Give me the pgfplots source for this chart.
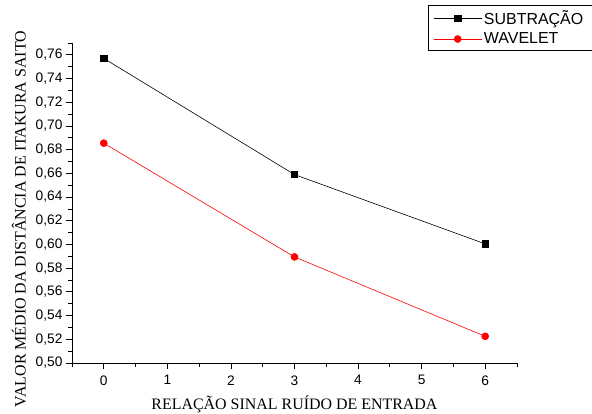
\documentclass[border=0pt]{standalone}
\usepackage{fontspec}
\setmainfont{Liberation Serif}
\newfontfamily\arial{Liberation Sans}
\usepackage{pgfplots}
\pgfplotsset{compat=1.18}
\begin{document}
\begin{tikzpicture}
\begin{axis}[
  at={(0,0)}, anchor=south west,
  width=445bp, height=320bp, scale only axis,
  xmin=-0.5, xmax=6.5, ymin=0.5, ymax=0.77,
  axis x line*=bottom, axis y line*=left,
  axis line style={line width=0.8pt, -},
  xtick={0,1,2,3,4,5,6},
  minor xtick={-0.5,0.5,1.5,2.5,3.5,4.5,5.5,6.5},
  ytick={0.50,0.52,...,0.77},
  minor ytick={0.51,0.53,...,0.771},
  tick align=outside,
  major tick length=6bp, minor tick length=3.5bp,
  tick style={line width=0.8pt, black},
  ticklabel style={font=\arial\fontsize{13.8}{14}\selectfont},
  xticklabel style={yshift=-3bp},
  /pgf/number format/assume math mode=true,
  yticklabel style={/pgf/number format/.cd, fixed, fixed zerofill, precision=2, use comma},
  xlabel={RELAÇÃO SINAL RUÍDO DE ENTRADA},
  ylabel={VALOR MÉDIO DA DISTÂNCIA DE ITAKURA SAITO},
  label style={font=\fontsize{16}{17}\selectfont},
  xlabel style={yshift=-4bp},
  ylabel style={at={(ticklabel cs:0.45)}, yshift=3bp},
  legend style={at={(axis description cs:0.800,1.119)}, anchor=north west,
    font=\arial\fontsize{16}{17}\selectfont, draw=black, line width=0.8pt,
    inner xsep=5bp, inner ysep=3bp, row sep=3bp,
    text width=138bp},
  legend cell align=left,
  legend image code/.code={\draw[mark repeat=2,mark phase=2,#1] plot coordinates {(0bp,0bp) (24bp,0bp) (48bp,0bp)};},
]
\addplot[black, line width=0.6pt, mark=square*, mark size=3.2bp, mark options={solid}]
  coordinates {(0,0.757) (3,0.659) (6,0.6005)};
\addlegendentry{SUBTRAÇÃO}
\addplot[red, line width=0.6pt, mark=*, mark size=3.5bp, mark options={solid}]
  coordinates {(0,0.6855) (3,0.5895) (6,0.5225)};
\addlegendentry{WAVELET}
\end{axis}
\pgfresetboundingbox
\path[use as bounding box] (-72bp,-51bp) rectangle (520bp,363bp);
\end{tikzpicture}
\end{document}
